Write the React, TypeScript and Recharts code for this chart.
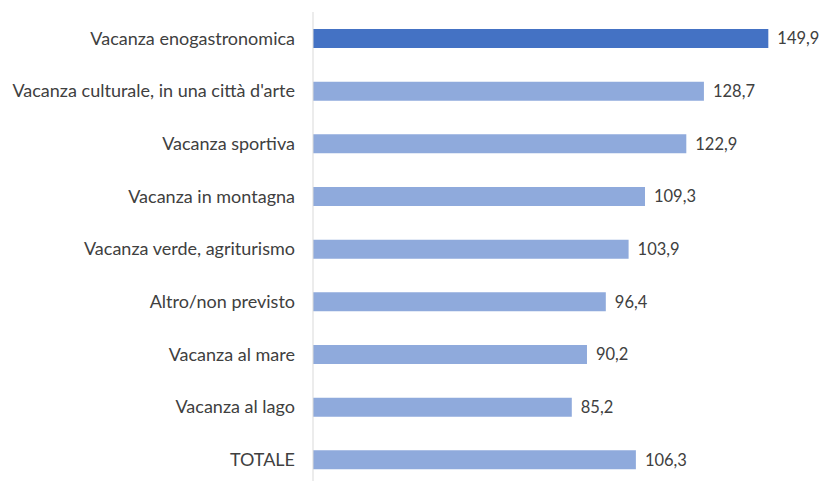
import { BarChart, Bar, XAxis, YAxis, Cell, LabelList } from "recharts";

const categories = [
  "Vacanza enogastronomica",
  "Vacanza culturale, in una città d'arte",
  "Vacanza sportiva",
  "Vacanza in montagna",
  "Vacanza verde, agriturismo",
  "Altro/non previsto",
  "Vacanza al mare",
  "Vacanza al lago",
  "TOTALE",
];

const values = [149.9, 128.7, 122.9, 109.3, 103.9, 96.4, 90.2, 85.2, 106.3];

const HIGHLIGHT = "#4472C4";
const BASE = "#8FAADC";
const TEXT = "#404040";
const FONT = "Lato, 'Open Sans', sans-serif";

const data = categories.map((name, i) => ({ name, value: values[i] }));

const fmt = (v: number) => v.toFixed(1).replace(".", ",");

export default function App() {
  return (
    <div style={{ position: "absolute", left: 0, top: 0, background: "#fff" }}>
      <BarChart
        width={823}
        height={490}
        data={data}
        layout="vertical"
        margin={{ top: 12, right: 24, bottom: 4, left: 0 }}
        barCategoryGap={0}
      >
        <XAxis type="number" domain={[0, 160]} hide />
        <YAxis
          type="category"
          dataKey="name"
          width={313}
          tickLine={false}
          axisLine={{ stroke: "#d9d9d9", strokeWidth: 1 }}
          tickMargin={12}
          tick={{ fill: TEXT, fontSize: 18, fontFamily: FONT }}
          interval={0}
        />
        <Bar dataKey="value" barSize={19} isAnimationActive={false}>
          {data.map((_, i) => (
            <Cell key={`c-${i}`} fill={i === 0 ? HIGHLIGHT : BASE} />
          ))}
          <LabelList
            dataKey="value"
            position="right"
            offset={9}
            formatter={(v: any) => fmt(Number(v))}
            style={{ fill: TEXT, fontSize: 16.5, fontFamily: FONT }}
          />
        </Bar>
      </BarChart>
    </div>
  );
}
